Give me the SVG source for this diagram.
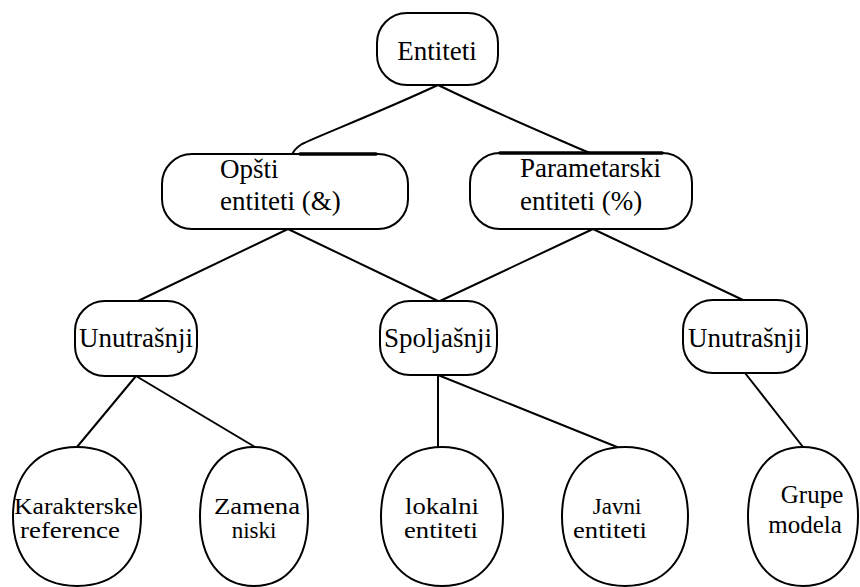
<svg xmlns="http://www.w3.org/2000/svg" width="860" height="587" viewBox="0 0 860 587">
  <style>
    .box { fill: #fff; stroke: #000; stroke-width: 2; }
    .edge { fill: none; stroke: #000; stroke-width: 2; stroke-linecap: round; }
    .rim { fill: none; stroke: #000; stroke-width: 3.5; stroke-linecap: round; }
    text { font-family: "Liberation Serif", "DejaVu Serif", serif; font-size: 27px; fill: #000; }
    .mid { text-anchor: middle; }
    .leaf { font-size: 23px; }
  </style>
  <rect width="860" height="587" fill="#fff"/>

  <g id="connectors">
    <path class="edge" d="M438,85 C380,112 318,136 302,144 Q294,149 292,155"/>
    <path class="edge" d="M438,85 C500,115 560,140 578,148 Q585,151 590,153"/>
    <path class="edge" d="M288,229 L138,301"/>
    <path class="edge" d="M288,229 L438,301"/>
    <path class="edge" d="M593,229 L440,301"/>
    <path class="edge" d="M593,229 L743,300"/>
    <path class="edge" d="M136,376 L77,447"/>
    <path class="edge" d="M136,376 L255,447"/>
    <path class="edge" d="M438,375 L438,447"/>
    <path class="edge" d="M438,375 L617,447"/>
    <path class="edge" d="M745,373 L803,447"/>
  </g>

  <g id="entiteti">
    <rect class="box" x="377" y="13" width="121" height="72" rx="30" ry="30"/>
    <text class="mid" x="437" y="60">Entiteti</text>
  </g>

  <g id="opsti">
    <rect class="box" x="162" y="154" width="246" height="75" rx="30" ry="30"/>
    <path class="rim" d="M300,154 L376,154"/>
    <text x="220" y="178">Opšti</text>
    <text x="220" y="210">entiteti (&amp;)</text>
  </g>

  <g id="parametarski">
    <rect class="box" x="470" y="153" width="222" height="76" rx="30" ry="30"/>
    <path class="rim" d="M500,153 L662,153"/>
    <text x="520" y="177">Parametarski</text>
    <text x="520" y="210">entiteti (%)</text>
  </g>

  <g id="unutrasnji-opsti">
    <rect class="box" x="75" y="301" width="122" height="75" rx="30" ry="30"/>
    <text class="mid" x="136" y="347">Unutrašnji</text>
  </g>

  <g id="spoljasnji">
    <rect class="box" x="380" y="301" width="117" height="74" rx="30" ry="30"/>
    <text class="mid" x="438" y="347">Spoljašnji</text>
  </g>

  <g id="unutrasnji-param">
    <rect class="box" x="683" y="300" width="124" height="73" rx="30" ry="30"/>
    <text class="mid" x="745" y="347">Unutrašnji</text>
  </g>

  <g id="karakterske-reference">
    <path class="box" d="M77,447 C116.7,447 141,473.4 141,516.5 C141,559.6 116.7,586 77,586 C37.3,586 13,559.6 13,516.5 C13,473.4 37.3,447 77,447Z"/>
    <text class="mid leaf" x="76" y="514" textLength="124" lengthAdjust="spacingAndGlyphs">Karakterske</text>
    <text class="mid leaf" x="70" y="538" textLength="100" lengthAdjust="spacingAndGlyphs">reference</text>
  </g>

  <g id="zamena-niski">
    <path class="box" d="M254,447 C287.5,447 308,473.4 308,516.5 C308,559.6 287.5,586 254,586 C220.5,586 200,559.6 200,516.5 C200,473.4 220.5,447 254,447Z"/>
    <text class="mid leaf" x="257" y="514" textLength="86" lengthAdjust="spacingAndGlyphs">Zamena</text>
    <text class="mid leaf" x="254" y="538">niski</text>
  </g>

  <g id="lokalni-entiteti">
    <path class="box" d="M442,447 C479.8,447 503,473.4 503,516.5 C503,559.6 479.8,586 442,586 C404.2,586 381,559.6 381,516.5 C381,473.4 404.2,447 442,447Z"/>
    <text class="mid leaf" x="442" y="514" textLength="74" lengthAdjust="spacingAndGlyphs">lokalni</text>
    <text class="mid leaf" x="441" y="538" textLength="74" lengthAdjust="spacingAndGlyphs">entiteti</text>
  </g>

  <g id="javni-entiteti">
    <path class="box" d="M625,447 C664.1,447 688,473.4 688,516.5 C688,559.6 664.1,586 625,586 C585.9,586 562,559.6 562,516.5 C562,473.4 585.9,447 625,447Z"/>
    <text class="mid leaf" x="617" y="514">Javni</text>
    <text class="mid leaf" x="610" y="538" textLength="74" lengthAdjust="spacingAndGlyphs">entiteti</text>
  </g>

  <g id="grupe-modela">
    <path class="box" d="M803,447 C837.1,447 858,473.4 858,516.5 C858,559.6 837.1,586 803,586 C768.9,586 748,559.6 748,516.5 C748,473.4 768.9,447 803,447Z"/>
    <text class="mid leaf" x="812" y="503" style="font-size:25px">Grupe</text>
    <text class="mid leaf" x="805" y="533" style="font-size:25px">modela</text>
  </g>
</svg>
